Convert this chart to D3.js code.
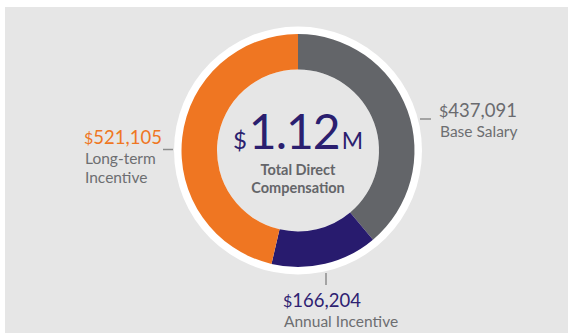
<!DOCTYPE html>
<html>
<head>
<meta charset="utf-8">
<script src="https://cdn.jsdelivr.net/npm/d3@7"></script>
<style>
  html, body { margin: 0; padding: 0; background: #ffffff; }
  svg { display: block; }
  text { font-family: Lato, "Open Sans", sans-serif; }
</style>
</head>
<body>
<svg id="chart" width="568" height="333"></svg>
<script>
// Components of total direct compensation
const categories = ["Base Salary", "Annual Incentive", "Long-term Incentive"];
const values = [437091, 166204, 521105];
const colors = ["#636569", "#281b6e", "#ef7622"];
const valueColors = ["#6a6b6f", "#2e2272", "#ef7622"];

const width = 568, height = 333;
const cx = 298, cy = 150.5;
const outerR = 116.5, innerR = 81, haloR = 124;

const svg = d3.select("#chart");

// panel background
svg.append("rect")
  .attr("x", 5).attr("y", 7)
  .attr("width", width - 5).attr("height", height - 7)
  .attr("fill", "#e6e6e6");

const g = svg.append("g").attr("transform", `translate(${cx},${cy})`);

// white halo behind the ring
g.append("circle").attr("r", haloR).attr("fill", "#ffffff");
g.append("circle").attr("r", innerR).attr("fill", "#e6e6e6");

const pie = d3.pie().sort(null).value(d => d)(values);
const arc = d3.arc().innerRadius(innerR).outerRadius(outerR);

g.selectAll("path.slice")
  .data(pie)
  .join("path")
  .attr("class", "slice")
  .attr("d", arc)
  .attr("fill", (d, i) => colors[i]);

// centre total
const total = d3.sum(values);
const center = g.append("text")
  .attr("text-anchor", "middle")
  .attr("y", -2)
  .attr("fill", "#2b1f6f");
center.append("tspan").attr("font-size", 24).text("$");
center.append("tspan").attr("font-size", 48).attr("dx", 2).attr("letter-spacing", -1)
  .text((total / 1e6).toFixed(2));
center.append("tspan").attr("font-size", 23).attr("dx", 2).text("M");

g.append("text")
  .attr("text-anchor", "middle").attr("y", 24.5)
  .attr("font-size", 14.5).attr("font-weight", 700).attr("fill", "#646569")
  .text("Total Direct");
g.append("text")
  .attr("text-anchor", "middle").attr("y", 42.5)
  .attr("font-size", 14.5).attr("font-weight", 700).attr("fill", "#646569")
  .text("Compensation");

// callouts: leader line plus value and name
const fmt = d3.format(",");
const callouts = [
  { line: [[420, 119], [431, 119]], x: 439, y: 117, lines: ["Base Salary"] },
  { line: [[326, 273], [326, 285]], x: 283, y: 307, lines: ["Annual Incentive"] },
  { line: [[163, 149.5], [173, 149.5]], x: 84, y: 143.5, lines: ["Long-term", "Incentive"] }
];

callouts.forEach((c, i) => {
  svg.append("line")
    .attr("x1", c.line[0][0]).attr("y1", c.line[0][1])
    .attr("x2", c.line[1][0]).attr("y2", c.line[1][1])
    .attr("stroke", "#8c8c8c").attr("stroke-width", 1.5);

  const t = svg.append("text")
    .attr("x", c.x).attr("y", c.y)
    .attr("fill", valueColors[i]);
  t.append("tspan").attr("font-size", 16).text("$");
  t.append("tspan").attr("font-size", 18.5).text(fmt(values[i]));

  c.lines.forEach((s, k) => {
    svg.append("text")
      .attr("x", c.x + 1).attr("y", c.y + 20 + k * 19.5)
      .attr("font-size", 15.5).attr("fill", "#6d6e71")
      .text(s);
  });
});
</script>
</body>
</html>
